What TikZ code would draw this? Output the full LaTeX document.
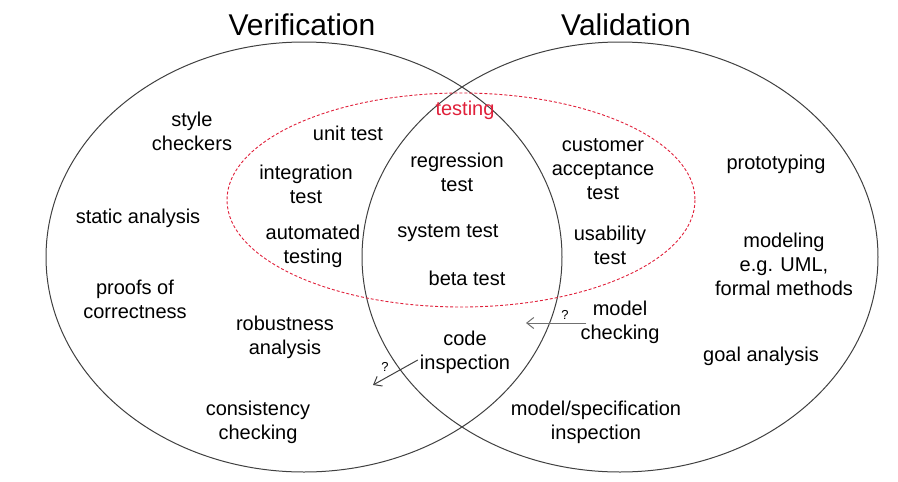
\documentclass[tikz,border=0pt]{standalone}
\usepackage{fontspec}
\setmainfont{Liberation Sans}
\usetikzlibrary{arrows.meta}
\definecolor{ringgrey}{HTML}{404040}
\definecolor{testred}{HTML}{E0203A}
\definecolor{arrowgrey}{HTML}{707070}
\tikzset{
  lbl/.style={align=center, font=\fontsize{20}{24}\selectfont, inner sep=0pt},
  ttl/.style={font=\fontsize{30}{34}\selectfont, inner sep=0pt},
  ring/.style={draw=ringgrey, line width=1pt},
  testring/.style={draw=testred, line width=0.9pt, dash pattern=on 3pt off 2pt},
  qarrow/.style={line width=1pt, -{Straight Barb[length=7pt,width=11pt]}},
  qmark/.style={font=\fontsize{13}{14}\selectfont, inner sep=0pt}
}
\begin{document}
\begin{tikzpicture}[x=1pt,y=-1pt]
\useasboundingbox (0,0) rectangle (898,482);
% circles
\draw[ring] (304,257) ellipse [x radius=258, y radius=215];
\draw[ring] (620,257) ellipse [x radius=258, y radius=215];
\draw[testring] (461,200) ellipse [x radius=234, y radius=107];
% titles
\node[ttl] (ver) at (302,25) {Verification};
\node[ttl] (val) at (626,25) {Validation};
% verification only
\node[lbl] (style) at (192,131) {style\\checkers};
\node[lbl] (static) at (138,218) {static analysis};
\node[lbl] (proofs) at (135,299) {proofs of\\correctness};
\node[lbl] (unit) at (348,133) {unit test};
\node[lbl] (integ) at (306,184) {integration\\test};
\node[lbl] (auto) at (313,246) {automated\\testing};
\node[lbl] (robust) at (285,337) {robustness\\analysis};
\node[lbl] (consist) at (258,422) {consistency\\checking};
% both
\node[lbl, text=testred] (testing) at (465,110) {testing};
\node[lbl] (regr) at (457,172) {regression\\test};
\node[lbl] (system) at (448,233) {system test};
\node[lbl] (beta) at (467,278) {beta test};
\node[lbl] (code) at (465,352) {code\\inspection};
% validation only
\node[lbl] (cust) at (603,169) {customer\\acceptance\\test};
\node[lbl] (usab) at (610,245) {usability\\test};
\node[lbl] (proto) at (776,164) {prototyping};
\node[lbl] (modeling) at (784,264) {modeling\\e.g. UML,\\formal methods};
\node[lbl] (mcheck) at (620,322) {model\\checking};
\node[lbl] (goal) at (761,356) {goal analysis};
\node[lbl] (mspec) at (596,422) {model/specification\\inspection};
% question arrows
\coordinate (mcend) at (526,323);
\coordinate (ciend) at (373,385);
\draw[qarrow, draw=arrowgrey] (mcheck.west |- mcend) ++(6,0) -- (mcend);
\node[qmark] (q1) at (565,315) {?};
\draw[qarrow, draw=ringgrey] (code.west) ++(-2,8) -- (ciend);
\node[qmark] (q2) at (385,367) {?};
\end{tikzpicture}
\end{document}
